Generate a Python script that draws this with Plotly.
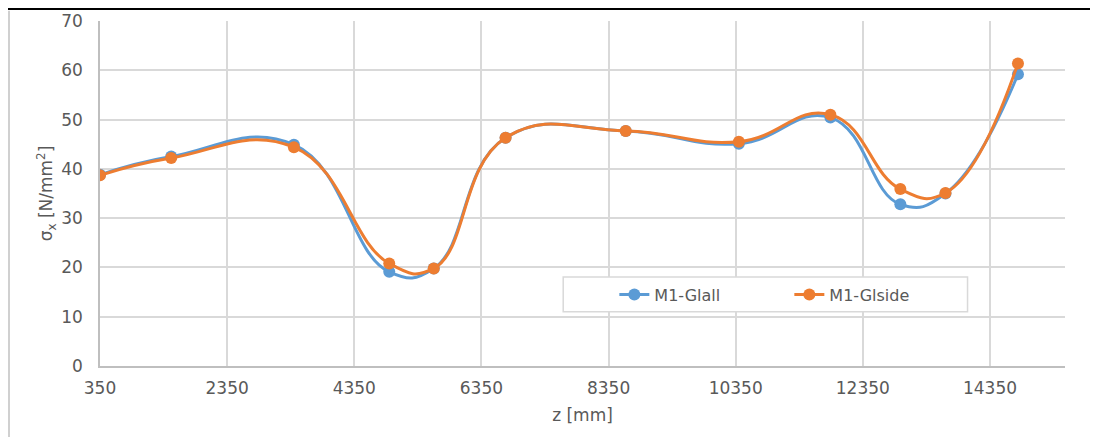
import plotly.graph_objects as go

# stations along the girder and stresses for the two models
z_mm = [350, 1470, 3400, 4900, 5600, 6730, 8620, 10400, 11840, 12940, 13650, 14790]
sigma_glall = [38.8, 42.5, 44.9, 19.1, 19.8, 46.3, 47.7, 45.1, 50.4, 32.8, 35.0, 59.2]
sigma_glside = [38.7, 42.2, 44.4, 20.8, 19.8, 46.3, 47.7, 45.5, 51.0, 35.9, 35.1, 61.4]

x_ticks = [350, 2350, 4350, 6350, 8350, 10350, 12350, 14350]
y_ticks = [0, 10, 20, 30, 40, 50, 60, 70]

BLUE = '#5B9BD5'
ORANGE = '#ED7D31'
GREY_TXT = '#595959'
GRID = '#d9d9d9'
FONT = 'DejaVu Sans'

fig = go.Figure()

fig.add_trace(go.Scatter(
    x=z_mm, y=sigma_glall,
    mode='lines+markers',
    name='M1-Glall',
    line=dict(color=BLUE, width=3, shape='spline', smoothing=1.3),
    marker=dict(color=BLUE, size=12),
))
fig.add_trace(go.Scatter(
    x=z_mm, y=sigma_glside,
    mode='lines+markers',
    name='M1-Glside',
    line=dict(color=ORANGE, width=3, shape='spline', smoothing=1.3),
    marker=dict(color=ORANGE, size=12),
))

# legend frame (white box with light border)
fig.add_shape(type='rect', xref='paper', yref='paper',
              x0=0.480, x1=0.899, y0=0.157, y1=0.258,
              fillcolor='white', line=dict(color=GRID, width=1.5), layer='above')
# page line on top and chart frame on the left
fig.add_shape(type='line', xref='paper', yref='paper',
              x0=-0.11, x1=1.05, y0=1.035, y1=1.035,
              line=dict(color='black', width=2))
fig.add_shape(type='line', xref='paper', yref='paper',
              x0=-0.0943, x1=-0.0943, y0=1.03, y1=-0.25,
              line=dict(color='#d0d0d0', width=2))

# the page puts the figure 8px in from the top-left corner
fig.update_layout(
    width=1090, height=429,
    margin=dict(l=92, r=33, t=13, b=71),
    plot_bgcolor='white', paper_bgcolor='white',
    font=dict(family=FONT, size=16, color=GREY_TXT),
    showlegend=True,
    legend=dict(
        orientation='h',
        x=0.533, y=0.207, xanchor='left', yanchor='middle',
        bgcolor='rgba(0,0,0,0)', borderwidth=0,
        entrywidth=130, entrywidthmode='pixels',
        font=dict(family=FONT, size=16, color=GREY_TXT),
    ),
)

fig.update_xaxes(
    range=[350, 15530],
    tickvals=x_ticks,
    ticktext=[str(v) for v in x_ticks],
    tickfont=dict(size=17),
    automargin=False,
    showgrid=True, gridcolor=GRID, gridwidth=1.5,
    showline=True, linecolor='#bfbfbf', linewidth=1.5,
    zeroline=False,
    ticks='outside', ticklen=6, tickcolor='rgba(0,0,0,0)',
    title=dict(text='z [mm]', standoff=12, font=dict(size=17)),
)
fig.update_yaxes(
    range=[0, 70],
    tickvals=y_ticks,
    tickfont=dict(size=17),
    automargin=False,
    showgrid=True, gridcolor=GRID, gridwidth=1.5,
    showline=True, linecolor='#bfbfbf', linewidth=1.5,
    zeroline=False,
    ticks='outside', ticklen=12, tickcolor='rgba(0,0,0,0)',
    title=dict(text='σ<sub>x</sub> [N/mm<sup>2</sup>]', standoff=4, font=dict(size=17)),
)

fig.write_html('out.html')
